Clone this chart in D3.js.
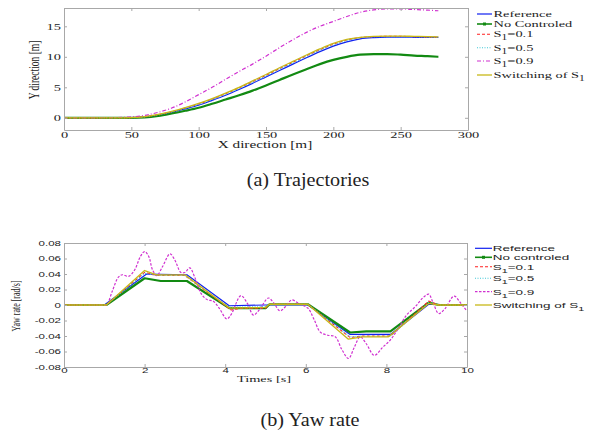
<!DOCTYPE html>
<html>
<head>
<meta charset="utf-8">
<script src="https://cdn.jsdelivr.net/npm/d3@7"></script>
<style>
  body { margin: 0; background: #fff; }
</style>
</head>
<body>
<svg id="fig" width="591" height="435"></svg>
<script>
// ---- data: (a) trajectories, Y [m] against X [m]
var trajX = [0, 20, 40, 50, 60, 70, 80, 90, 100, 110, 120, 130, 140, 150, 160, 170, 180, 190, 200, 210, 220, 230, 240, 250, 260, 270, 278];
var trajRef    = [0, 0, 0, 0.02, 0.15, 0.45, 0.9, 1.45, 2.05, 2.85, 3.7, 4.65, 5.65, 6.7, 7.75, 8.8, 9.85, 10.85, 11.75, 12.45, 12.95, 13.15, 13.22, 13.22, 13.2, 13.2, 13.2];
var trajNoCtrl = [0, 0, 0, -0.02, 0.05, 0.3, 0.7, 1.15, 1.65, 2.3, 3.0, 3.7, 4.45, 5.3, 6.2, 7.1, 7.95, 8.8, 9.5, 10.0, 10.35, 10.45, 10.45, 10.35, 10.2, 10.1, 10.0];
var trajS01    = [0, 0, 0, 0.03, 0.18, 0.5, 1.0, 1.6, 2.25, 3.05, 3.95, 4.9, 5.9, 6.95, 8.05, 9.1, 10.15, 11.15, 12.05, 12.75, 13.15, 13.3, 13.35, 13.35, 13.3, 13.25, 13.2];
var trajS05    = [0, 0, 0, 0.02, 0.17, 0.48, 0.95, 1.53, 2.18, 2.95, 3.85, 4.8, 5.8, 6.85, 7.95, 9.0, 10.05, 11.05, 11.95, 12.65, 13.1, 13.28, 13.3, 13.3, 13.28, 13.24, 13.2];
var trajS09    = [0, 0, 0.05, 0.15, 0.4, 0.9, 1.6, 2.6, 3.8, 5.0, 6.3, 7.6, 8.8, 10.1, 11.5, 12.8, 14.0, 15.0, 15.8, 16.6, 17.3, 17.7, 17.85, 17.85, 17.75, 17.65, 17.55];
var trajSwitch = [0, 0, 0, 0.03, 0.2, 0.55, 1.05, 1.65, 2.35, 3.15, 4.05, 5.0, 6.05, 7.1, 8.2, 9.25, 10.3, 11.3, 12.2, 12.85, 13.2, 13.35, 13.4, 13.4, 13.35, 13.3, 13.25];

// ---- data: (b) yaw rate [rad/s] against time [s]
var refT = [0, 1, 2.05, 3.05, 4.1, 5, 6.05, 7.1, 8.1, 9.05, 10];
var refV = [0, 0, 0.04, 0.039, -0.001, 0, 0, -0.038, -0.038, 0.001, 0];
var noCtrlT = [0, 1.05, 2.0, 2.4, 3.05, 4.1, 5.0, 5.1, 6.05, 7.1, 7.5, 8.1, 9.05, 9.3, 10];
var noCtrlV = [0, 0, 0.0345, 0.031, 0.031, -0.004, -0.004, 0.001, 0.001, -0.0355, -0.034, -0.034, 0.003, 0, 0];
var s01T = [0, 1.05, 2.0, 2.3, 3.0, 4.15, 4.4, 5.0, 5.1, 6.05, 7.1, 7.4, 8.1, 9.05, 9.3, 10];
var s01V = [0, 0, 0.042, 0.038, 0.038, -0.0065, -0.004, -0.004, 0.001, 0.001, -0.042, -0.04, -0.04, 0.005, 0, 0];
var s05T = [0, 1.05, 2.0, 2.3, 3.0, 4.1, 5.0, 5.1, 6.05, 7.1, 7.4, 8.1, 9.05, 9.3, 10];
var s05V = [0, 0, 0.041, 0.038, 0.038, -0.003, -0.002, 0.001, 0.001, -0.041, -0.04, -0.04, 0.003, 0, 0];
var s09T = [0, 1.0, 1.06, 1.2, 1.35, 1.45, 1.6, 1.75, 1.9, 2.0, 2.1, 2.2, 2.3, 2.45, 2.63, 2.75, 2.9, 3.0, 3.12, 3.25, 3.4, 3.55, 3.7, 3.85, 4.04, 4.15, 4.39, 4.55, 4.7, 4.85, 5.07, 5.2, 5.36, 5.5, 5.65, 5.85, 6.05, 6.2, 6.36, 6.55, 6.73, 6.9, 7.06, 7.2, 7.35, 7.5, 7.7, 7.9, 8.1, 8.3, 8.5, 8.72, 8.9, 9.05, 9.15, 9.3, 9.45, 9.68, 9.85, 10];
var s09V = [0, 0, 0, 0.018, 0.036, 0.039, 0.037, 0.045, 0.063, 0.069, 0.063, 0.045, 0.038, 0.05, 0.066, 0.058, 0.042, 0.042, 0.048, 0.035, 0.015, 0.007, 0.005, -0.004, -0.018, -0.012, 0.012, 0.002, -0.013, -0.006, 0.009, 0.003, -0.0075, -0.002, 0.0065, 0.001, -0.004, -0.018, -0.035, -0.039, -0.041, -0.058, -0.069, -0.055, -0.041, -0.05, -0.065, -0.055, -0.045, -0.03, -0.013, -0.002, 0.009, 0.014, 0.004, -0.011, -0.005, 0.0115, 0.002, -0.008];
var switchT = [0, 1.05, 2.0, 2.3, 3.0, 4.1, 5.0, 5.1, 6.05, 7.05, 7.4, 8.05, 9.05, 9.3, 10];
var switchV = [0, 0, 0.0445, 0.039, 0.039, -0.004, -0.003, 0.001, 0.001, -0.044, -0.041, -0.041, 0.002, 0, 0];

var trajXTicks = [0, 50, 100, 150, 200, 250, 300];
var trajYTicks = [0, 5, 10, 15];
var yawXTicks = [0, 2, 4, 6, 8, 10];
var yawYTicks = [-0.08, -0.06, -0.04, -0.02, 0, 0.02, 0.04, 0.06, 0.08];

var legendA = [["Reference"], ["No Controled"], ["S", "1", "=0.1"], ["S", "1", "=0.5"], ["S", "1", "=0.9"], ["Switching of S", "1", ""]];
var legendB = [["Reference"], ["No controled"], ["S", "1", "=0.1"], ["S", "1", "=0.5"], ["S", "1", "=0.9"], ["Switching of S", "1", ""]];

// ---- styles (same order as the legends)
var serif = "'Liberation Serif', 'Times New Roman', serif";
var sans = "'Liberation Sans', Arial, sans-serif";
var frameCol = "#a8a8a8";
var styles = [
  { color: "#1020f0", width: 1.2, dash: null },
  { color: "#128a12", width: 2.2, dash: null },
  { color: "#ff2020", width: 1.1, dash: "3,2" },
  { color: "#40c8d8", width: 1.1, dash: "1,1.5" },
  { color: "#d030d0", width: 1.2, dash: "4,2,1,2" },
  { color: "#c8b818", width: 1.3, dash: null }
];

var svg = d3.select("#fig");

// scales
var xA = d3.scaleLinear().domain([0, 300]).range([64, 468]);
var yA = d3.scaleLinear().domain([-2, 18]).range([130, 8]);
var xB = d3.scaleLinear().domain([0, 10]).range([64, 467]);
var yB = d3.scaleLinear().domain([-0.08, 0.08]).range([367, 243]);

// box axes with inward ticks on all four sides, stretched labels like the original
function drawFrame(x, y, xTicks, yTicks, yFmt, font, fs, sx, xPad) {
  var x0 = x.range()[0], x1 = x.range()[1], y0 = y.range()[0], y1 = y.range()[1];
  var axes = [
    { a: d3.axisBottom(x).tickValues(xTicks).tickPadding(xPad).tickFormat(d3.format("d")), t: `translate(0,${y0})` },
    { a: d3.axisTop(x).tickValues(xTicks).tickFormat(""), t: `translate(0,${y1})` },
    { a: d3.axisLeft(y).tickValues(yTicks).tickPadding(3 / sx).tickFormat(yFmt), t: `translate(${x0},0)` },
    { a: d3.axisRight(y).tickValues(yTicks).tickFormat(""), t: `translate(${x1},0)` }
  ];
  axes.forEach(function(ax) {
    var g = svg.append("g")
      .attr("transform", ax.t)
      .call(ax.a.tickSizeInner(-3).tickSizeOuter(0));
    g.select(".domain").attr("stroke", frameCol).attr("stroke-width", 1);
    g.selectAll(".tick line").attr("stroke", frameCol);
    g.attr("font-family", font).attr("font-size", fs);
    g.selectAll(".tick text")
      .attr("fill", "#222")
      .attr("transform", `scale(${sx},1)`);
  });
}

function drawLines(x, y, xs, ys, curves) {
  xs.forEach(function(xv, i) {
    var pts = xv.map(function(v, j) { return [v, ys[i][j]]; });
    var st = styles[i];
    svg.append("path")
      .datum(pts)
      .attr("fill", "none")
      .attr("stroke", st.color)
      .attr("stroke-width", st.width)
      .attr("stroke-dasharray", i == 4 ? curves.magDash : st.dash)
      .attr("stroke-linejoin", "round")
      .attr("d", d3.line().x(d => x(d[0])).y(d => y(d[1])).curve(curves.list[i]));
  });
}

function stretchedText(x, y, txt, font, fs, sx, anchor, rot) {
  return svg.append("text")
    .attr("transform", `translate(${x},${y}) scale(${sx},1)` + (rot ? " rotate(-90)" : ""))
    .attr("text-anchor", anchor || "middle")
    .attr("font-family", font)
    .attr("font-size", fs)
    .attr("fill", "#222")
    .text(txt);
}

function drawLegend(items, lx0, lx1, tx, ys, font, fs, sx, dashes) {
  items.forEach(function(it, i) {
    var st = styles[i];
    svg.append("line")
      .attr("x1", lx0).attr("x2", lx1).attr("y1", ys[i]).attr("y2", ys[i])
      .attr("stroke", st.color)
      .attr("stroke-width", i == 1 ? 1.6 : st.width)
      .attr("stroke-dasharray", dashes[i]);
    if (i == 1) {
      svg.append("rect")
        .attr("x", (lx0 + lx1) / 2 - 1.5).attr("y", ys[i] - 1.5)
        .attr("width", 3).attr("height", 3)
        .attr("fill", st.color);
    }
    var t = stretchedText(tx, ys[i] + 3, it[0], font, fs, sx, "start");
    if (it.length > 1) {
      t.append("tspan").attr("dy", 3).attr("font-size", fs * 0.8).text(it[1]);
      t.append("tspan").attr("dy", -3).text(it[2]);
    }
  });
}

// ---------- (a) Trajectories
var mono = d3.curveMonotoneX;
drawLines(xA, yA,
  [trajX, trajX, trajX, trajX, trajX, trajX],
  [trajRef, trajNoCtrl, trajS01, trajS05, trajS09, trajSwitch],
  { list: [mono, mono, mono, mono, mono, mono], magDash: "4,2,1,2" });
drawFrame(xA, yA, trajXTicks, trajYTicks, d3.format("d"), serif, 9, 1.6, 2);
stretchedText(265, 147.5, "X direction [m]", serif, 9.5, 1.6);
stretchedText(39, 70, "Y direction [m]", serif, 9.5, 1.5, "middle", true);
drawLegend(legendA, 477, 492, 493.5, [14, 24, 34.3, 47.7, 61, 75], serif, 9, 1.6,
  [null, null, "3,2", "1,1.5", "4,2,1,2", null]);
stretchedText(308, 186, "(a) Trajectories", serif, 18, 1.12);

// ---------- (b) Yaw rate
var lin = d3.curveLinear;
drawLines(xB, yB,
  [refT, noCtrlT, s01T, s05T, s09T, switchT],
  [refV, noCtrlV, s01V, s05V, s09V, switchV],
  { list: [lin, lin, lin, lin, d3.curveCatmullRom.alpha(0.5), lin], magDash: "2.5,1.5" });
drawFrame(xB, yB, yawXTicks, yawYTicks, d => d === 0 ? "0" : d.toFixed(2), sans, 7, 1.65, 1.5);
stretchedText(264, 381.5, "Times [s]", serif, 8, 1.8);
stretchedText(20, 306, "Yaw rate [rad/s]", serif, 8, 1.5, "middle", true);
drawLegend(legendB, 475, 492, 492.7, [248.3, 257.3, 266.7, 278.3, 291.7, 305], sans, 7.5, 1.8,
  [null, null, "3,2", "1,1.5", "2.5,1.5", null]);
stretchedText(310, 426, "(b) Yaw rate", serif, 18, 1.12);
</script>
</body>
</html>
